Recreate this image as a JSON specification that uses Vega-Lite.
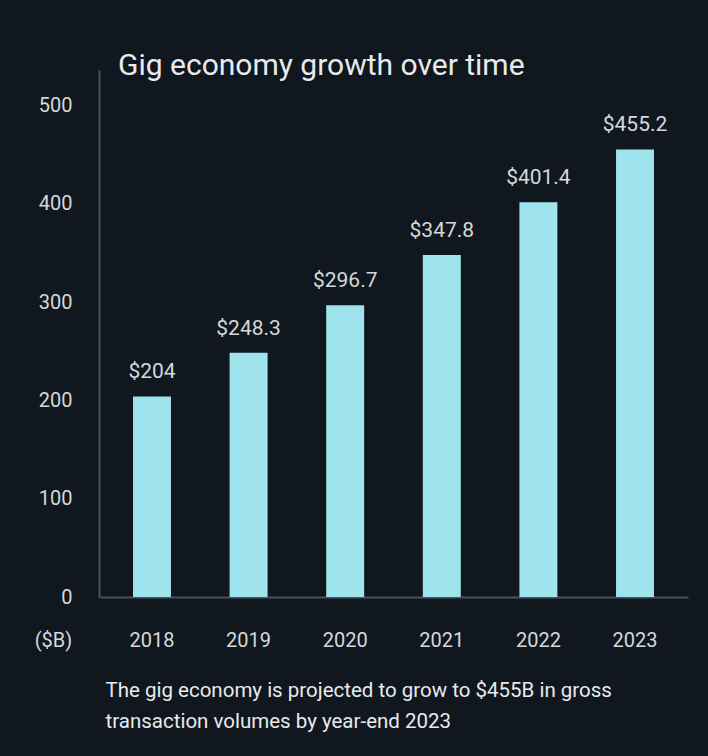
{
  "$schema": "https://vega.github.io/schema/vega-lite/v6.json",
  "width": 589,
  "height": 527,
  "autosize": {"type": "none"},
  "padding": {"left": 99, "top": 70, "right": 20, "bottom": 159},
  "background": "#10171f",
  "title": {
    "text": "Gig economy growth over time",
    "anchor": "start",
    "frame": "group",
    "font": "Roboto",
    "fontSize": 30,
    "fontWeight": "normal",
    "color": "#e8eaec",
    "baseline": "alphabetic",
    "offset": 0,
    "dx": 19,
    "dy": 35
  },
  "data": {
    "values": [
      {"year": "2018", "value": 204, "label": "$204"},
      {"year": "2019", "value": 248.3, "label": "$248.3"},
      {"year": "2020", "value": 296.7, "label": "$296.7"},
      {"year": "2021", "value": 347.8, "label": "$347.8"},
      {"year": "2022", "value": 401.4, "label": "$401.4"},
      {"year": "2023", "value": 455.2, "label": "$455.2"}
    ]
  },
  "encoding": {
    "x": {
      "field": "year",
      "type": "ordinal",
      "scale": {"paddingInner": 0.607, "paddingOuter": 0.352},
      "axis": {
        "labelAngle": 0,
        "domain": true,
        "domainColor": "#4b5259",
        "domainWidth": 2,
        "ticks": false,
        "tickSize": 0,
        "grid": false,
        "labelFont": "Roboto",
        "labelFontSize": 20,
        "labelColor": "#d5d9dc",
        "labelBaseline": "middle",
        "labelPadding": 43,
        "title": ["The gig economy is projected to grow to $455B in gross", "transaction volumes by year-end 2023"],
        "titleFont": "Roboto",
        "titleFontSize": 20.5,
        "titleFontWeight": "normal",
        "titleColor": "#e8eaec",
        "titleAlign": "left",
        "titleAnchor": "start",
        "titleBaseline": "top",
        "titleX": 6,
        "titleY": 83,
        "titleLineHeight": 31
      }
    },
    "y": {
      "field": "value",
      "type": "quantitative",
      "scale": {"domain": [0, 536], "nice": false},
      "axis": {
        "values": [0, 100, 200, 300, 400, 500],
        "domain": true,
        "domainColor": "#4b5259",
        "domainWidth": 2,
        "ticks": false,
        "tickSize": 0,
        "grid": false,
        "labelFont": "Roboto",
        "labelFontSize": 20,
        "labelColor": "#d5d9dc",
        "labelPadding": 27,
        "title": "($B)",
        "titleAngle": 0,
        "titleFont": "Roboto",
        "titleFontSize": 20,
        "titleFontWeight": "normal",
        "titleColor": "#d5d9dc",
        "titleAlign": "center",
        "titleBaseline": "middle",
        "titleX": -46,
        "titleY": 570
      }
    }
  },
  "layer": [
    {"mark": {"type": "bar", "color": "#9fe3ec"}},
    {
      "mark": {"type": "text", "baseline": "bottom", "dy": -14, "font": "Roboto", "fontSize": 21, "color": "#d5d9dc"},
      "encoding": {"text": {"field": "label"}}
    }
  ],
  "config": {"view": {"stroke": null}}
}
